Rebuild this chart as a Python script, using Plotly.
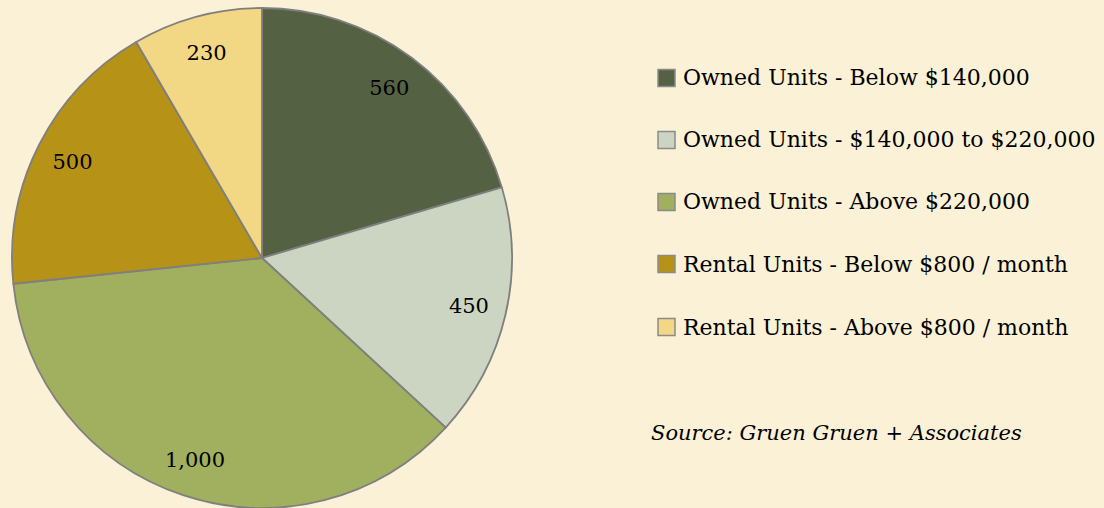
import plotly.graph_objects as go

categories = [
    "Owned Units - Below $140,000",
    "Owned Units - $140,000 to $220,000",
    "Owned Units - Above $220,000",
    "Rental Units - Below $800 / month",
    "Rental Units - Above $800 / month",
]
values = [560, 450, 1000, 500, 230]
colors = ["#546243", "#CCD5C2", "#A0B05E", "#B69217", "#F2D784"]
source_note = "Source: Gruen Gruen + Associates"

FONT = "DejaVu Serif, serif"
BG = "#FAF1D6"
PIE_DOMAIN = dict(x=[12 / 1104, 512 / 1104], y=[0, 500 / 508])

fig = go.Figure()
# coloured slices
fig.add_trace(go.Pie(
    labels=categories,
    values=values,
    sort=False,
    direction="clockwise",
    rotation=0,
    marker=dict(colors=colors, line=dict(color="#7F7F7F", width=1.8)),
    textinfo="none",
    domain=PIE_DOMAIN,
    showlegend=False,
    hoverinfo="label+value",
))
# transparent ring carrying the value labels near the rim
fig.add_trace(go.Pie(
    labels=categories,
    values=values,
    sort=False,
    direction="clockwise",
    rotation=0,
    hole=0.70,
    marker=dict(colors=["rgba(0,0,0,0)"] * len(values), line=dict(width=0)),
    texttemplate="%{value:,}",
    textposition="inside",
    insidetextorientation="horizontal",
    textfont=dict(family=FONT, size=21, color="#000000"),
    domain=PIE_DOMAIN,
    showlegend=False,
    hoverinfo="skip",
))

# legend drawn as squares + text
row_y = [78, 140, 202, 264, 327]
for i, (lab, col) in enumerate(zip(categories, colors)):
    yc = 1 - row_y[i] / 508
    fig.add_shape(type="rect", xref="paper", yref="paper",
                  x0=658 / 1104, x1=675 / 1104,
                  y0=yc - 8.5 / 508, y1=yc + 8.5 / 508,
                  fillcolor=col, line=dict(color="#8A8A8A", width=1.5))
    fig.add_annotation(x=681 / 1104, y=yc, xref="paper", yref="paper",
                       text=lab, showarrow=False, xanchor="left", yanchor="middle",
                       font=dict(family=FONT, size=22, color="#000000"))

fig.add_annotation(x=649 / 1104, y=1 - 433 / 508, xref="paper", yref="paper",
                   text="<i>" + source_note + "</i>", showarrow=False,
                   xanchor="left", yanchor="middle",
                   font=dict(family=FONT, size=21, color="#000000"))

fig.update_layout(
    width=1104, height=508,
    margin=dict(l=0, r=0, t=0, b=0),
    paper_bgcolor=BG, plot_bgcolor=BG,
    showlegend=False,
)
fig.write_html("out.html",
               config={"displayModeBar": False},
               post_script="document.body.style.margin='0';document.body.style.padding='0';")
